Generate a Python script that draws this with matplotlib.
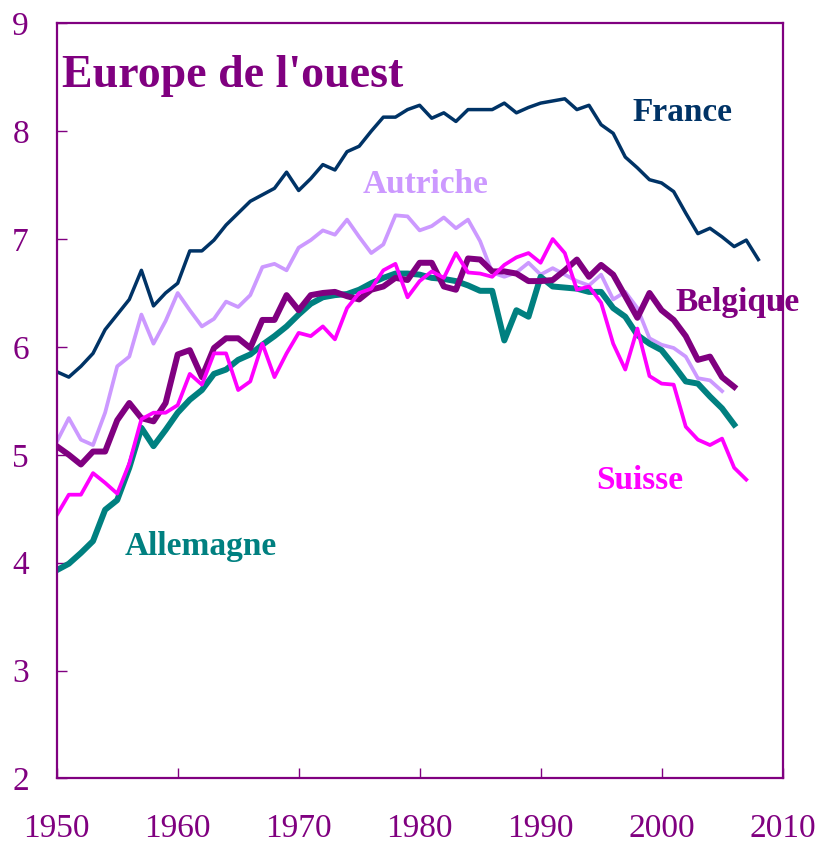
import matplotlib
matplotlib.use("Agg")
import matplotlib.pyplot as plt
import numpy as np

plt.rcParams['font.family'] = ['Liberation Serif', 'DejaVu Serif']

PURPLE = '#800080'

# valeurs (1950 -> fin de serie)
france = [5.77, 5.72, 5.82, 5.94, 6.16, 6.30, 6.44, 6.71, 6.38, 6.50,
          6.59, 6.89, 6.89, 6.99, 7.13, 7.24, 7.35, 7.41, 7.47, 7.62,
          7.45, 7.56, 7.69, 7.64, 7.81, 7.86, 8.00, 8.13, 8.13, 8.20,
          8.24, 8.12, 8.17, 8.09, 8.20, 8.20, 8.20, 8.26, 8.17, 8.22,
          8.26, 8.28, 8.30, 8.20, 8.24, 8.06, 7.98, 7.76, 7.66, 7.55,
          7.52, 7.44, 7.24, 7.05, 7.10, 7.02, 6.93, 6.99, 6.81]
autriche = [5.12, 5.34, 5.14, 5.09, 5.39, 5.82, 5.91, 6.30, 6.03, 6.24,
            6.50, 6.34, 6.19, 6.26, 6.42, 6.37, 6.48, 6.74, 6.77, 6.71,
            6.92, 6.99, 7.08, 7.04, 7.18, 7.02, 6.87, 6.95, 7.22, 7.21,
            7.08, 7.12, 7.20, 7.10, 7.18, 6.98, 6.69, 6.65, 6.69, 6.78,
            6.67, 6.73, 6.67, 6.61, 6.57, 6.67, 6.44, 6.51, 6.36, 6.08,
            6.02, 5.99, 5.91, 5.71, 5.69, 5.59]
belgique = [5.08, 5.00, 4.91, 5.03, 5.03, 5.32, 5.48, 5.34, 5.31, 5.48,
            5.93, 5.97, 5.72, 5.99, 6.08, 6.08, 5.99, 6.25, 6.25, 6.48,
            6.34, 6.48, 6.50, 6.51, 6.47, 6.44, 6.53, 6.56, 6.64, 6.62,
            6.78, 6.78, 6.56, 6.53, 6.82, 6.81, 6.70, 6.70, 6.68, 6.61,
            6.61, 6.62, 6.71, 6.81, 6.65, 6.76, 6.67, 6.47, 6.27, 6.50,
            6.34, 6.25, 6.10, 5.88, 5.91, 5.72, 5.63]
allemagne = [3.93, 3.99, 4.09, 4.20, 4.49, 4.58, 4.88, 5.25, 5.08, 5.23,
             5.39, 5.51, 5.60, 5.75, 5.79, 5.88, 5.93, 6.02, 6.10, 6.19,
             6.30, 6.40, 6.46, 6.48, 6.49, 6.53, 6.59, 6.64, 6.68, 6.68,
             6.67, 6.64, 6.63, 6.61, 6.57, 6.52, 6.52, 6.06, 6.34, 6.28,
             6.65, 6.56, 6.55, 6.54, 6.51, 6.51, 6.36, 6.28, 6.11, 6.03,
             5.97, 5.83, 5.68, 5.66, 5.54, 5.43, 5.28]
suisse = [4.44, 4.63, 4.63, 4.83, 4.74, 4.64, 4.92, 5.33, 5.39, 5.39,
          5.46, 5.75, 5.65, 5.94, 5.94, 5.60, 5.68, 6.03, 5.72, 5.94,
          6.13, 6.10, 6.19, 6.07, 6.36, 6.50, 6.54, 6.71, 6.77, 6.46,
          6.61, 6.70, 6.64, 6.87, 6.69, 6.68, 6.65, 6.76, 6.83, 6.87,
          6.78, 7.00, 6.87, 6.53, 6.56, 6.41, 6.03, 5.79, 6.17, 5.73,
          5.66, 5.65, 5.26, 5.14, 5.09, 5.15, 4.88, 4.77]

def years(serie):
    return np.arange(1950, 1950 + len(serie))

fig = plt.figure(figsize=(8.22, 8.47), dpi=100)
ax = fig.add_axes([0.069, 0.081, 0.883, 0.8915])

ax.plot(years(autriche), autriche, color='#CC99FF', lw=2.7)
ax.plot(years(france), france, color='#003366', lw=2.5)
ax.plot(years(allemagne), allemagne, color='#008080', lw=4.3)
ax.plot(years(belgique), belgique, color=PURPLE, lw=4.3)
ax.plot(years(suisse), suisse, color='#FF00FF', lw=2.7)

ax.set_xlim(1950, 2010)
ax.set_ylim(2, 9)
ax.set_xticks(range(1950, 2011, 10))
ax.set_yticks(range(2, 10))

for s in ax.spines.values():
    s.set_color(PURPLE)
    s.set_linewidth(1.6)

ax.tick_params(axis='both', direction='in', colors=PURPLE, labelcolor=PURPLE,
               labelsize=24, length=7, width=1)
ax.tick_params(axis='x', pad=25)
ax.tick_params(axis='y', pad=20)

ax.text(0.007, 0.93, "Europe de l'ouest", transform=ax.transAxes,
        fontsize=33, fontweight='bold', color=PURPLE, va='center', ha='left')

lab = dict(fontsize=24, fontweight='bold', ha='center', va='center')
ax.text(2001.7, 8.17, 'France', color='#003366', **lab)
ax.text(1980.5, 7.51, 'Autriche', color='#CC99FF', **lab)
ax.text(2006.3, 6.41, 'Belgique', color=PURPLE, **lab)
ax.text(1998.2, 4.76, 'Suisse', color='#FF00FF', **lab)
ax.text(1961.9, 4.15, 'Allemagne', color='#008080', **lab)

fig.savefig('out.png', dpi=100)
